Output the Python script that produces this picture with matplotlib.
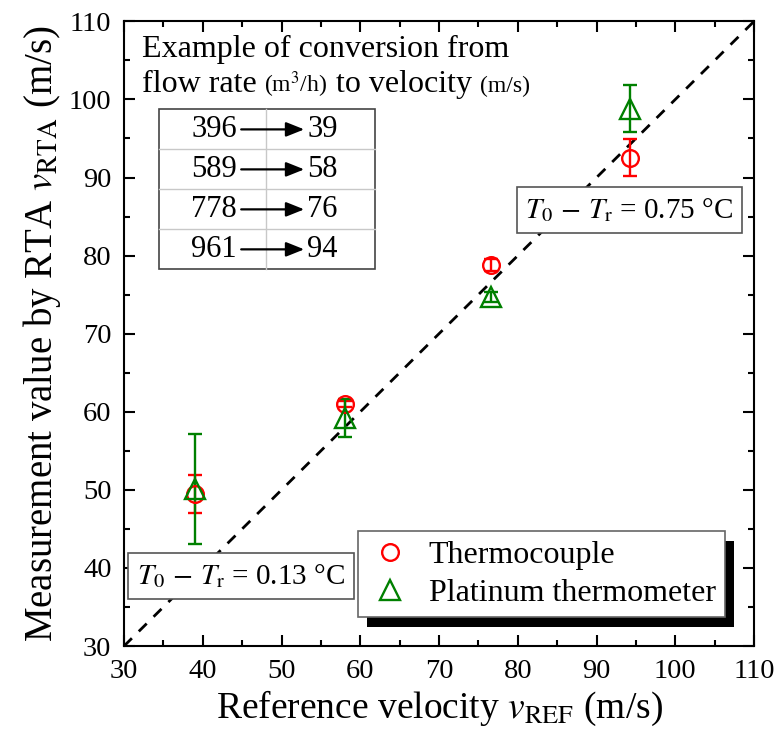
import numpy as np
import matplotlib
matplotlib.use("Agg")
import matplotlib.pyplot as plt
from matplotlib.lines import Line2D
from matplotlib.patches import Rectangle
from matplotlib.offsetbox import TextArea, HPacker, VPacker, AnchoredOffsetbox

plt.rcParams['font.family'] = ['Liberation Serif', 'DejaVu Serif']
plt.rcParams['mathtext.fontset'] = 'stix'

# datos
v_ref = [39.0, 58.0, 76.6, 94.3]
tc_val = [49.45, 61.0, 78.8, 92.55]
tc_err = [2.45, 0.4, 0.8, 2.35]
pt_val = [50.1, 59.2, 74.7, 98.8]
pt_err = [7.0, 2.4, 0.6, 3.0]
flow_rate = ['396', '589', '778', '961']
velocity = ['39', '58', '76', '94']
ideal = [30, 110]

fig = plt.figure(figsize=(7.75, 7.35), dpi=100)
ax = fig.add_axes([0.160, 0.121, 0.813, 0.850])

# linea ideal y = x
ax.plot(ideal, ideal, color='black', lw=2, dashes=[4, 3.5], zorder=1)

ax.errorbar(v_ref, tc_val, yerr=tc_err, fmt='o', ms=12, mfc='none', mec='red',
            mew=1.7, ecolor='red', elinewidth=1.7, capsize=5, capthick=1.7, zorder=3)
ax.errorbar(v_ref, pt_val, yerr=pt_err, fmt='^', ms=14, mfc='none', mec='green',
            mew=1.7, ecolor='green', elinewidth=1.7, capsize=5, capthick=1.7, zorder=3)

ax.set_xlim(30, 110)
ax.set_ylim(30, 110)
ax.set_xticks(np.arange(30, 111, 10))
ax.set_yticks(np.arange(30, 111, 10))
ax.set_xticks(np.arange(35, 110, 10), minor=True)
ax.set_yticks(np.arange(35, 110, 10), minor=True)
ax.tick_params(which='both', direction='in', top=True, right=True, width=1.5,
               labelsize=20.5)
ax.tick_params(which='major', length=8)
ax.tick_params(which='minor', length=4)
ax.tick_params(axis='x', pad=9)
ax.tick_params(axis='y', pad=9)
for s in ax.spines.values():
    s.set_linewidth(1.5)

ax.set_xlabel(r"Reference velocity $v_{\mathrm{REF}}$ (m/s)", fontsize=27, labelpad=4)
ax.set_ylabel(r"Measurement value by RTA $v_{\mathrm{RTA}}$ (m/s)", fontsize=28, labelpad=4)

# cajas de texto
box = dict(boxstyle='square,pad=0.3', fc='white', ec='#555555', lw=1.2)
ax.text(0.186, 0.112, r"$T_0\,-\,T_\mathrm{r}$ = 0.13 °C", transform=ax.transAxes,
        fontsize=21, ha='center', va='center', bbox=box, zorder=4)
ax.text(0.802, 0.698, r"$T_0\,-\,T_\mathrm{r}$ = 0.75 °C", transform=ax.transAxes,
        fontsize=21, ha='center', va='center', bbox=box, zorder=4)

# titulo de la tabla (con unidades en letra mas chica)
big = dict(fontsize=23)
small = dict(fontsize=17)
line1 = TextArea("Example of conversion from", textprops=big)
line2 = HPacker(children=[TextArea("flow rate ", textprops=big),
                          TextArea("(m$^3$/h)", textprops=small),
                          TextArea(" to velocity ", textprops=big),
                          TextArea("(m/s)", textprops=small)],
                align='baseline', pad=0, sep=0)
title_box = VPacker(children=[line1, line2], align='left', pad=0, sep=4)
anch = AnchoredOffsetbox(loc='upper left', child=title_box, frameon=False,
                         bbox_to_anchor=(0.028, 0.978), bbox_transform=ax.transAxes,
                         borderpad=0, pad=0)
ax.add_artist(anch)

# tabla de conversion
t_left, t_right, t_mid = 0.0554, 0.399, 0.226
t_top, t_bot = 0.859, 0.603
n = len(flow_rate)
rh = (t_top - t_bot) / n
for i in range(1, n):
    y = t_top - i * rh
    ax.plot([t_left, t_right], [y, y], transform=ax.transAxes, color='#c8c8c8', lw=1)
ax.plot([t_mid, t_mid], [t_bot, t_top], transform=ax.transAxes, color='#c8c8c8', lw=1)
ax.add_patch(Rectangle((t_left, t_bot), t_right - t_left, t_top - t_bot,
                       transform=ax.transAxes, fill=False, ec='#444444', lw=1.2))
for i, (q, v) in enumerate(zip(flow_rate, velocity)):
    yc = t_top - (i + 0.5) * rh
    ax.text(0.179, yc, q, transform=ax.transAxes, fontsize=22, ha='right', va='center')
    ax.text(0.291, yc, v, transform=ax.transAxes, fontsize=22, ha='left', va='center')
    ax.annotate('', xy=(0.286, yc), xytext=(0.186, yc), xycoords='axes fraction',
                arrowprops=dict(arrowstyle='-|>,head_length=0.5,head_width=0.2',
                                color='black', lw=1.6, mutation_scale=22,
                                shrinkA=0, shrinkB=0))

# leyenda con sombra
handles = [Line2D([], [], ls='none', marker='o', ms=12, mfc='none', mec='red', mew=1.7),
           Line2D([], [], ls='none', marker='^', ms=14, mfc='none', mec='green', mew=1.7)]
leg = ax.legend(handles, ['Thermocouple', 'Platinum thermometer'], loc='lower right',
                bbox_to_anchor=(0.954, 0.046), borderaxespad=0, fontsize=23,
                fancybox=False, edgecolor='#666666', framealpha=1, handletextpad=0.5,
                borderpad=0.3, labelspacing=0.25, handlelength=1.4)
leg.get_frame().set_linewidth(1.2)
leg.set_zorder(6)
fig.canvas.draw()
bb = leg.get_window_extent()
ax.add_patch(Rectangle((bb.x0 + 9, bb.y0 - 10), bb.width, bb.height, transform=None,
                       fc='black', ec='none', zorder=5.5, clip_on=False))

fig.savefig('out.png', dpi=100)
